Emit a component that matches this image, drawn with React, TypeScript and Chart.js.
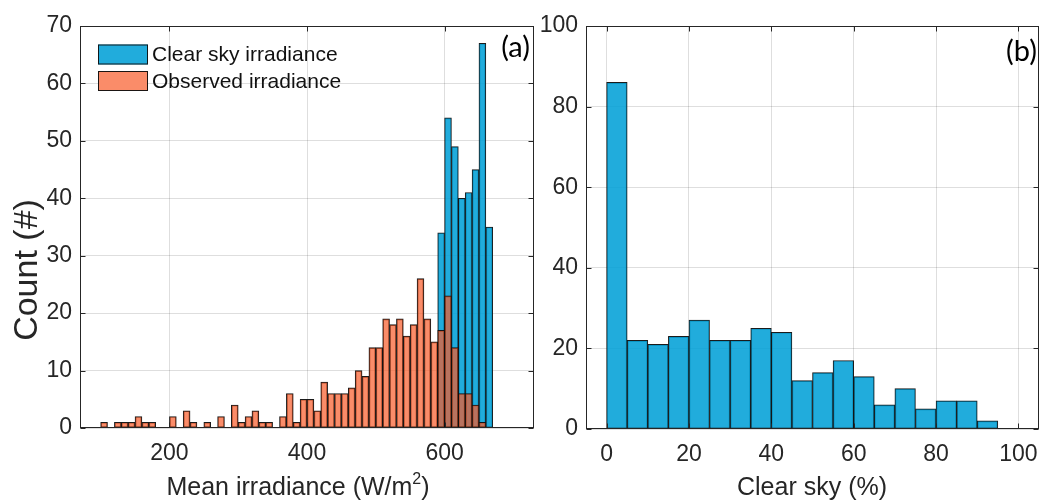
import React, { useEffect, useRef } from 'react';
import { Chart, registerables } from 'chart.js';
Chart.register(...registerables);

// ---------- Data: panel (a) ----------
const clearBinCenters = [595, 605, 615, 625, 635, 645, 655, 665];
const clearCounts = [34, 54, 49, 40, 41, 45, 67, 35];

const obsBinCenters = [
  105, 115, 125, 135, 145, 155, 165, 175, 185, 195,
  205, 215, 225, 235, 245, 255, 265, 275, 285, 295,
  305, 315, 325, 335, 345, 355, 365, 375, 385, 395,
  405, 415, 425, 435, 445, 455, 465, 475, 485, 495,
  505, 515, 525, 535, 545, 555, 565, 575, 585, 595,
  605, 615, 625, 635, 645, 655,
];
const obsCounts = [
  1, 0, 1, 1, 1, 2, 1, 1, 0, 0,
  2, 0, 3, 1, 0, 1, 0, 2, 0, 4,
  1, 2, 3, 1, 1, 0, 2, 6, 1, 5,
  5, 3, 8, 6, 6, 6, 7, 10, 9, 14,
  14, 19, 18, 19, 16, 18, 26, 19, 15, 17,
  23, 14, 6, 6, 4, 1,
];
const irrXTicks = [200, 400, 600];
const irrYTicks = [0, 10, 20, 30, 40, 50, 60, 70];

// ---------- Data: panel (b) ----------
const skyBinCenters = [2.5, 7.5, 12.5, 17.5, 22.5, 27.5, 32.5, 37.5, 42.5, 47.5, 52.5, 57.5, 62.5, 67.5, 72.5, 77.5, 82.5, 87.5, 92.5];
const skyCounts = [86, 22, 21, 23, 27, 22, 22, 25, 24, 12, 14, 17, 13, 6, 10, 5, 7, 7, 2];
const skyXTicks = [0, 20, 40, 60, 80, 100];
const skyYTicks = [0, 20, 40, 60, 80, 100];

// ---------- Styles ----------
const FONT = '"Liberation Sans", Arial, Helvetica, sans-serif';
const LABEL_FONT = 'Lato, "Open Sans", sans-serif';
const AXIS = '#262626';
const GRID = 'rgba(0,0,0,0.13)';
const BLUE = 'rgba(0,160,215,0.87)';
const ORANGE = 'rgba(248,91,41,0.7)';
const EDGE = 'rgba(15,15,15,0.95)';

function framePlugin(extra: (chart: any) => void) {
  return {
    id: 'frame',
    afterDraw(chart: any) {
      const { ctx, chartArea: a, scales } = chart;
      ctx.save();
      ctx.strokeStyle = AXIS;
      ctx.lineWidth = 1;
      const L = a.left + 0.5, R = a.right - 0.5, T = a.top + 0.5, B = a.bottom - 0.5;
      ctx.strokeRect(L, T, R - L, B - T);
      const tl = 5;
      ctx.beginPath();
      scales.x.ticks.forEach((t: any) => {
        const px = Math.round(scales.x.getPixelForValue(t.value)) + 0.5;
        ctx.moveTo(px, B); ctx.lineTo(px, B - tl);
        ctx.moveTo(px, T); ctx.lineTo(px, T + tl);
      });
      scales.y.ticks.forEach((t: any) => {
        const py = Math.round(scales.y.getPixelForValue(t.value)) + 0.5;
        ctx.moveTo(L, py); ctx.lineTo(L + tl, py);
        ctx.moveTo(R, py); ctx.lineTo(R - tl, py);
      });
      ctx.stroke();
      ctx.restore();
      ctx.save();
      extra(chart);
      ctx.restore();
    },
  };
}

function scaleOpts(min: number, max: number, ticks: number[], padding: number, size: number, isX: boolean) {
  return {
    type: 'linear',
    min,
    max,
    offset: false,
    border: { display: false },
    grid: { color: GRID, lineWidth: 1, drawTicks: false, offset: false },
    ticks: { color: AXIS, font: { family: FONT, size: 23 }, padding },
    afterBuildTicks: (s: any) => { s.ticks = ticks.map((v) => ({ value: v })); },
    afterFit: (s: any) => { if (isX) s.height = size; else s.width = size; },
  };
}

function barDs(label: string, xs: number[], ys: number[], color: string, order: number) {
  return {
    label,
    data: xs.map((x, i) => ({ x, y: ys[i] })),
    backgroundColor: color,
    borderColor: EDGE,
    borderWidth: 1,
    borderSkipped: false,
    barPercentage: 1,
    categoryPercentage: 1,
    grouped: false,
    order,
  };
}

export default function App() {
  const ref1 = useRef<HTMLCanvasElement>(null);
  const ref2 = useRef<HTMLCanvasElement>(null);

  useEffect(() => {
    const c1 = new Chart(ref1.current!, {
      type: 'bar',
      data: {
        datasets: [
          barDs('Clear sky irradiance', clearBinCenters, clearCounts, BLUE, 2),
          barDs('Observed irradiance', obsBinCenters, obsCounts, ORANGE, 1),
        ] as any,
      },
      options: {
        responsive: false,
        animation: false,
        devicePixelRatio: 1,
        layout: { padding: { top: 26, right: 6, left: 0, bottom: 0 } },
        plugins: { legend: { display: false }, tooltip: { enabled: false } },
        scales: {
          x: scaleOpts(70, 730, irrXTicks, 12, 76, true) as any,
          y: scaleOpts(0, 70, irrYTicks, 8, 80, false) as any,
        },
      },
      plugins: [framePlugin((chart: any) => {
        const ctx = chart.ctx as CanvasRenderingContext2D;
        // legend
        const ds = chart.data.datasets;
        const rows = [54.5, 81];
        ds.forEach((d: any, i: number) => {
          const y = rows[i];
          ctx.fillStyle = '#fff';
          ctx.fillRect(98, y - 10, 50, 20);
          ctx.fillStyle = d.backgroundColor;
          ctx.fillRect(98, y - 10, 50, 20);
          ctx.strokeStyle = EDGE;
          ctx.lineWidth = 1;
          ctx.strokeRect(98.5, y - 9.5, 49, 19);
          ctx.fillStyle = '#111';
          ctx.font = `21px ${FONT}`;
          ctx.textAlign = 'left';
          ctx.textBaseline = 'middle';
          ctx.fillText(d.label, 152, y + 1);
        });
        // panel label
        ctx.fillStyle = '#000';
        ctx.font = `29px ${LABEL_FONT}`;
        ctx.textAlign = 'right';
        ctx.textBaseline = 'middle';
        ctx.fillText('(a)', 530, 48);
        // x title with superscript
        ctx.fillStyle = AXIS;
        ctx.textBaseline = 'alphabetic';
        ctx.textAlign = 'left';
        const main = 'Mean irradiance (W/m';
        ctx.font = `25px ${FONT}`;
        const w1 = ctx.measureText(main).width;
        const w3 = ctx.measureText(')').width;
        ctx.font = `16px ${FONT}`;
        const w2 = ctx.measureText('2').width;
        const total = w1 + w2 + w3;
        const x0 = 298 - total / 2;
        const base = 495;
        ctx.font = `25px ${FONT}`;
        ctx.fillText(main, x0, base);
        ctx.fillText(')', x0 + w1 + w2, base);
        ctx.font = `16px ${FONT}`;
        ctx.fillText('2', x0 + w1, base - 11);
        // y title
        ctx.save();
        ctx.translate(28, 270);
        ctx.rotate(-Math.PI / 2);
        ctx.font = `34px ${FONT}`;
        ctx.textAlign = 'center';
        ctx.textBaseline = 'middle';
        ctx.fillText('Count (#)', 0, 0);
        ctx.restore();
      })],
    });

    const c2 = new Chart(ref2.current!, {
      type: 'bar',
      data: {
        datasets: [barDs('Clear sky', skyBinCenters, skyCounts, BLUE, 1)] as any,
      },
      options: {
        responsive: false,
        animation: false,
        devicePixelRatio: 1,
        layout: { padding: { top: 26, right: 15, left: 0, bottom: 0 } },
        plugins: { legend: { display: false }, tooltip: { enabled: false } },
        scales: {
          x: scaleOpts(-5, 105, skyXTicks, 12, 75, true) as any,
          y: scaleOpts(0, 100, skyYTicks, 8, 46, false) as any,
        },
      },
      plugins: [framePlugin((chart: any) => {
        const ctx = chart.ctx as CanvasRenderingContext2D;
        ctx.fillStyle = '#000';
        ctx.font = `29px ${LABEL_FONT}`;
        ctx.textAlign = 'right';
        ctx.textBaseline = 'middle';
        ctx.fillText('(b)', 497, 52);
        ctx.fillStyle = AXIS;
        ctx.font = `25px ${FONT}`;
        ctx.textAlign = 'center';
        ctx.textBaseline = 'alphabetic';
        ctx.fillText('Clear sky (%)', 272, 495);
      })],
    });

    return () => { c1.destroy(); c2.destroy(); };
  }, []);

  return (
    <div style={{ position: 'absolute', left: 0, top: 0, width: 1054, height: 504, background: '#fff' }}>
      <canvas ref={ref1} width={540} height={504} style={{ position: 'absolute', left: 0, top: 0, width: 540, height: 504 }} />
      <canvas ref={ref2} width={514} height={504} style={{ position: 'absolute', left: 540, top: 0, width: 514, height: 504 }} />
    </div>
  );
}
